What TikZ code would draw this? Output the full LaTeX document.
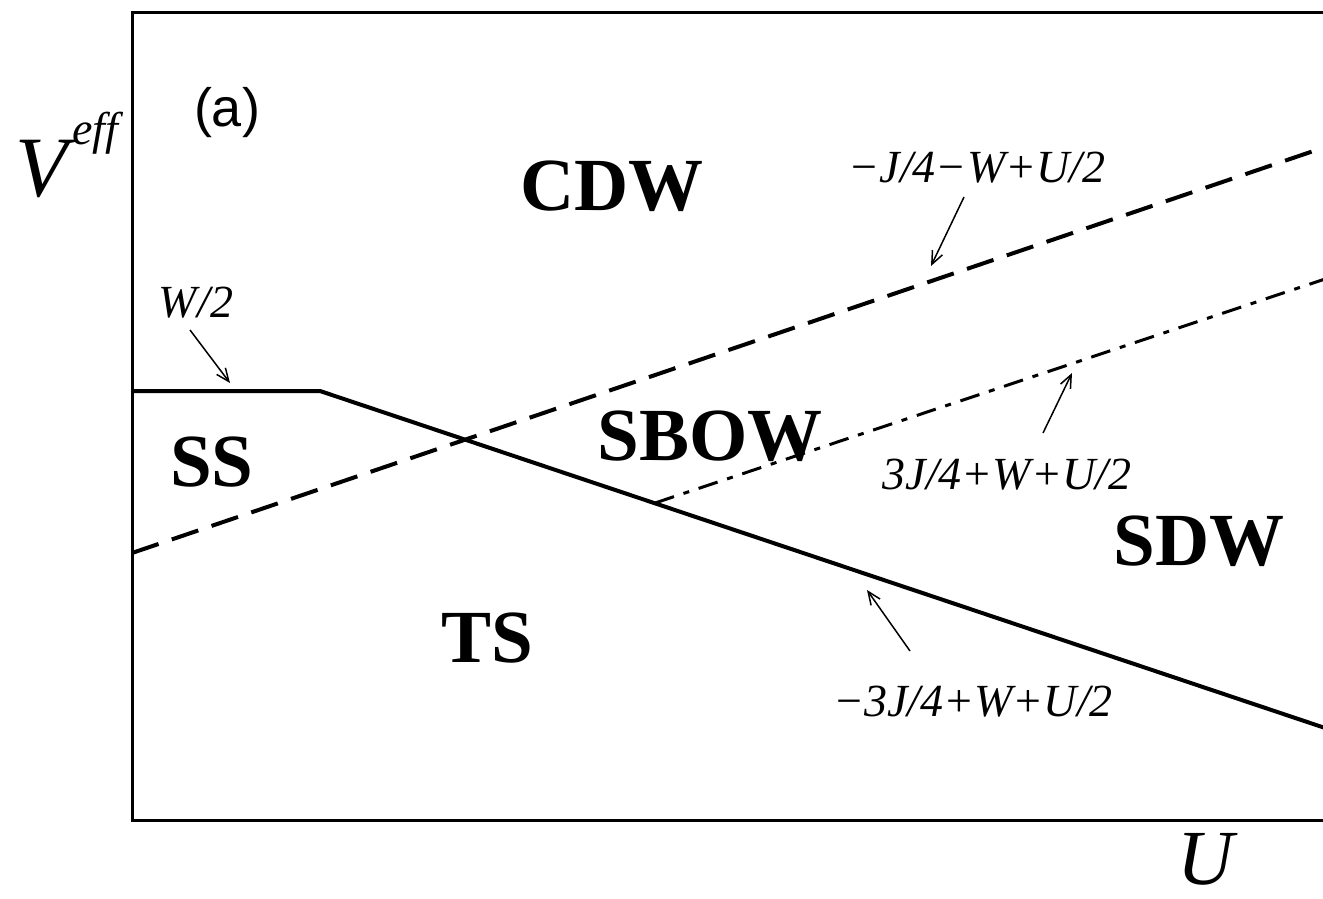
\documentclass[tikz,border=0pt]{standalone}
\usepackage{fontspec}
\setmainfont{Liberation Serif}
\newfontfamily\arialfont{Liberation Sans}
\usetikzlibrary{arrows.meta}
\tikzset{
  phase/.style={font=\fontsize{75}{82}\selectfont\bfseries, inner sep=0pt},
  lbl/.style={font=\fontsize{46}{52}\selectfont\itshape, inner sep=0pt},
  ptr/.style={line width=1.5pt, -{Straight Barb[length=13pt,width=11pt,line width=1.5pt]}},
  bound/.style={line width=4pt},
  dashb/.style={line width=4pt, dash pattern=on 28pt off 14pt},
  dashdot/.style={line width=3pt, dash pattern=on 20pt off 10pt on 6pt off 10pt},
}
\newcommand{\mns}{\char"2212\relax}
\begin{document}
\begin{tikzpicture}[x=1pt,y=-1pt]
\clip (0,0) rectangle (1323,899);
\fill[white] (0,0) rectangle (1323,899);
% frame
\draw[line width=3pt] (1340,13) -- (132,13) -- (132,820) -- (1340,820);
% boundaries
\coordinate (s0) at (132,391);
\coordinate (s1) at (320,391);
\coordinate (s2) at (1340,733);
\draw[bound, line join=miter] (s0) -- (s1) -- (s2);
\coordinate (d0) at (132,553);
\coordinate (d1) at (1340,142);
\draw[dashb] (d0) -- (d1);
\coordinate (c0) at (655,503);
\coordinate (c1) at (1340,274);
\draw[dashdot] (c0) -- (c1);
% labels
\node[font=\fontsize{86}{92}\selectfont\itshape, anchor=base, inner sep=0pt] (V) at (42,196) {V};
\node[font=\fontsize{46}{50}\selectfont\itshape, anchor=base west, inner sep=0pt] (eff) at (72,144) {eff};
\node[font=\fontsize{78}{86}\selectfont\itshape, anchor=base, inner sep=0pt] (U) at (1206,884) {U};
\node[font=\fontsize{54}{60}\selectfont\arialfont, anchor=base, inner sep=0pt] (a) at (227,126) {(a)};
\node[phase, anchor=base] (CDW) at (612,210) {CDW};
\node[phase, anchor=base] (SS) at (212,486) {SS};
\node[phase, anchor=base] (SBOW) at (710,460) {SBOW};
\node[phase, anchor=base] (SDW) at (1199,565) {SDW};
\node[phase, anchor=base] (TS) at (487,662) {TS};
\node[lbl, anchor=base] (lW) at (196,317) {W/2};
\node[lbl, anchor=base] (lJ1) at (977,182) {\mns J/4\mns W+U/2};
\node[lbl, anchor=base] (lJ3) at (1007,489) {3J/4+W+U/2};
\node[lbl, anchor=base] (lJ2) at (973,716) {\mns 3J/4+W+U/2};
% pointers
\coordinate (pW0) at (190,330);
\coordinate (pW1) at (230,383);
\draw[ptr] (pW0) -- (pW1);
\coordinate (pA0) at (964,197);
\coordinate (pA1) at (931,266);
\draw[ptr] (pA0) -- (pA1);
\coordinate (pB0) at (1043,433);
\coordinate (pB1) at (1072,373);
\draw[ptr] (pB0) -- (pB1);
\coordinate (pC0) at (910,651);
\coordinate (pC1) at (867,590);
\draw[ptr] (pC0) -- (pC1);
\end{tikzpicture}
\end{document}
